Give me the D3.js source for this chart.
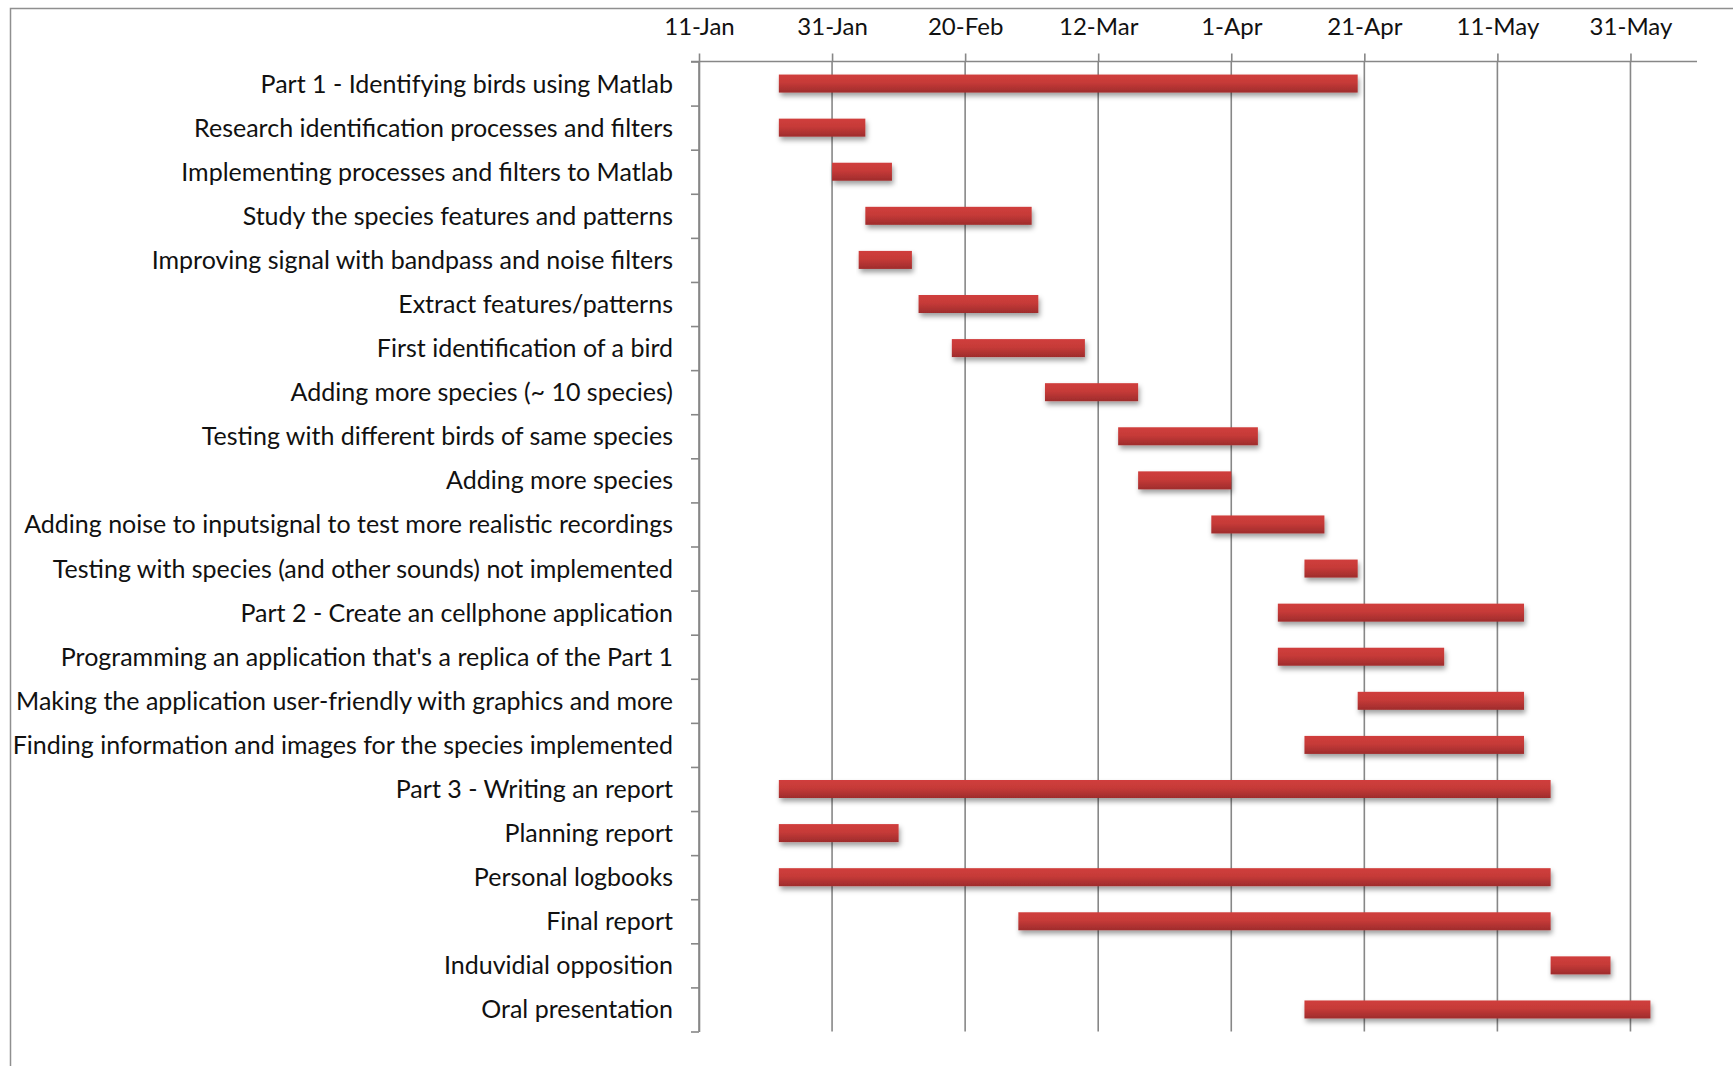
<!DOCTYPE html>
<html>
<head>
<meta charset="utf-8">
<script src="https://cdn.jsdelivr.net/npm/d3@7"></script>
<style>
  html, body { margin: 0; padding: 0; background: #fff; }
  svg { display: block; }
  .lbl text { font-family: Lato, "Open Sans", sans-serif; fill: #111; }
</style>
</head>
<body>
<svg id="chart" width="1733" height="1066"></svg>
<script>
// Project schedule: task names with start and end dates
const taskNames = [
  "Part 1 - Identifying birds using Matlab",
  "Research identification processes and filters",
  "Implementing processes and filters to Matlab",
  "Study the species features and patterns",
  "Improving signal with bandpass and noise filters",
  "Extract features/patterns",
  "First identification of a bird",
  "Adding more species (~ 10 species)",
  "Testing with different birds of same species",
  "Adding more species",
  "Adding noise to inputsignal to test more realistic recordings",
  "Testing with species (and other sounds) not implemented",
  "Part 2 - Create an cellphone application",
  "Programming an application that's a replica of the Part 1",
  "Making the application user-friendly with graphics and more",
  "Finding information and images for the species implemented",
  "Part 3 - Writing an report",
  "Planning report",
  "Personal logbooks",
  "Final report",
  "Induvidial opposition",
  "Oral presentation"
];
const startDates = [
  "23-Jan", "23-Jan", "31-Jan", "5-Feb", "4-Feb", "13-Feb", "18-Feb", "4-Mar",
  "15-Mar", "18-Mar", "29-Mar", "12-Apr", "8-Apr", "8-Apr", "20-Apr", "12-Apr",
  "23-Jan", "23-Jan", "23-Jan", "28-Feb", "19-May", "12-Apr"
];
const endDates = [
  "20-Apr", "5-Feb", "9-Feb", "2-Mar", "12-Feb", "3-Mar", "10-Mar", "18-Mar",
  "5-Apr", "1-Apr", "15-Apr", "20-Apr", "15-May", "3-May", "15-May", "15-May",
  "19-May", "10-Feb", "19-May", "19-May", "28-May", "3-Jun"
];
const tickLabels = ["11-Jan", "31-Jan", "20-Feb", "12-Mar", "1-Apr", "21-Apr", "11-May", "31-May"];
const axisExtent = ["11-Jan", "10-Jun"];
const year = 2011;

const parse = s => d3.utcParse("%d-%b-%Y")(s + "-" + year);
const fmt = d3.utcFormat("%-d-%b");

const svg = d3.select("#chart");
const W = 1733, H = 1066;
const plot = { left: 699, right: 1697, top: 61.5, bottom: 1031.5 };

const x = d3.scaleUtc()
  .domain(axisExtent.map(parse))
  .range([plot.left, plot.right]);

const y = d3.scaleBand()
  .domain(taskNames)
  .range([plot.top, plot.bottom])
  .padding(0);

const edges = d3.scaleLinear()
  .domain([0, taskNames.length])
  .range([plot.top, plot.bottom]);

const tickDates = tickLabels.map(parse);
const gridColor = "#878787";

// outer frame
svg.append("rect")
  .attr("x", 10.5).attr("y", 8.5)
  .attr("width", W + 20).attr("height", H + 20)
  .attr("fill", "#fff")
  .attr("stroke", "#8f8f8f").attr("stroke-width", 1.5);

// defs: bar gradient and shadow
const defs = svg.append("defs");
const grad = defs.append("linearGradient")
  .attr("id", "barFill").attr("x1", 0).attr("y1", 0).attr("x2", 0).attr("y2", 1);
grad.append("stop").attr("offset", "0%").attr("stop-color", "#d03e3c");
grad.append("stop").attr("offset", "45%").attr("stop-color", "#c63a38");
grad.append("stop").attr("offset", "100%").attr("stop-color", "#9e2c2c");

const shadow = defs.append("filter")
  .attr("id", "barShadow")
  .attr("x", "-5%").attr("y", "-40%").attr("width", "115%").attr("height", "200%");
shadow.append("feDropShadow")
  .attr("dx", 1.5).attr("dy", 3.5).attr("stdDeviation", 2.5)
  .attr("flood-color", "#000").attr("flood-opacity", 0.38);

// vertical gridlines
svg.append("g")
  .selectAll("line")
  .data(tickDates)
  .join("line")
  .attr("x1", d => x(d)).attr("x2", d => x(d))
  .attr("y1", plot.top).attr("y2", plot.bottom)
  .attr("stroke", gridColor).attr("stroke-width", 1.6);

// top date axis
const xAxis = svg.append("g")
  .attr("transform", `translate(0,${plot.top})`)
  .call(d3.axisTop(x).tickValues(tickDates).tickFormat(fmt).tickSize(8).tickSizeOuter(0).tickPadding(19));
xAxis.select(".domain").attr("stroke", gridColor).attr("stroke-width", 1.6)
  .attr("d", `M${plot.left - 8},0H${plot.right}`);
xAxis.selectAll(".tick line").attr("stroke", gridColor).attr("stroke-width", 1.6);
xAxis.selectAll(".tick text")
  .attr("font-family", "Lato, 'Open Sans', sans-serif")
  .attr("font-size", 24).attr("fill", "#111");

// left category axis: boundary ticks
const yEdges = svg.append("g")
  .attr("transform", `translate(${plot.left},0)`)
  .call(d3.axisLeft(edges).tickValues(d3.range(0, taskNames.length + 1)).tickFormat("").tickSize(8).tickSizeOuter(0));
yEdges.select(".domain").attr("stroke", gridColor).attr("stroke-width", 1.6);
yEdges.selectAll(".tick line").attr("stroke", gridColor).attr("stroke-width", 1.6);

// left category axis: task labels
const yLabels = svg.append("g")
  .attr("class", "lbl")
  .attr("transform", `translate(${plot.left},1)`)
  .call(d3.axisLeft(y).tickSize(0).tickPadding(26));
yLabels.select(".domain").remove();
yLabels.selectAll(".tick text")
  .attr("font-size", 25).attr("fill", "#111");

// task bars
const barH = 18;
svg.append("g")
  .selectAll("rect")
  .data(taskNames.map((name, i) => ({ name, start: parse(startDates[i]), end: parse(endDates[i]) })))
  .join("rect")
  .attr("x", d => x(d.start))
  .attr("y", d => y(d.name) + y.bandwidth() / 2 - barH / 2)
  .attr("width", d => x(d.end) - x(d.start))
  .attr("height", barH)
  .attr("fill", "url(#barFill)")
  .attr("filter", "url(#barShadow)");
</script>
</body>
</html>
